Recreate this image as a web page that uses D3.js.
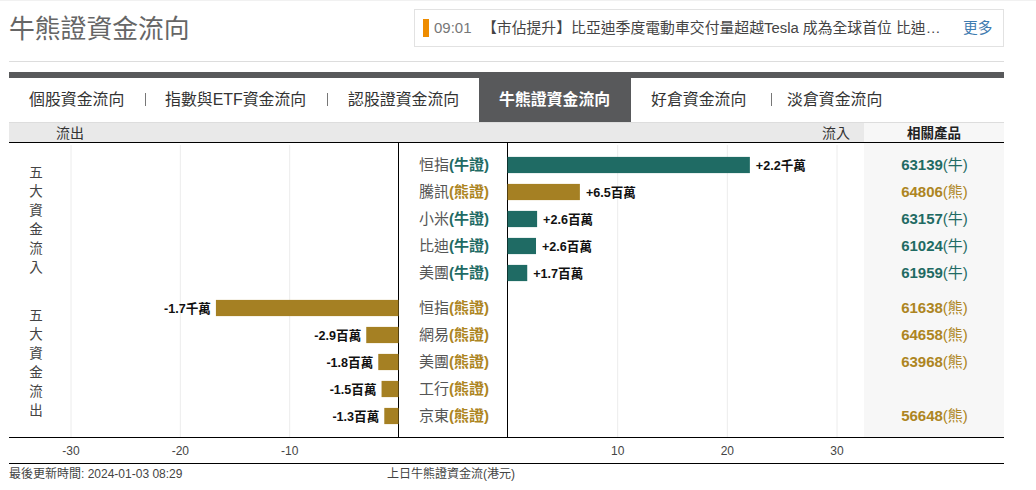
<!DOCTYPE html>
<html>
<head>
<meta charset="utf-8">
<script src="https://cdn.jsdelivr.net/npm/d3@7"></script>
<style>
  html, body { margin: 0; padding: 0; background: #fff; overflow: hidden; }
  svg { display: block; }
  text { font-family: "Liberation Sans", "Noto Sans CJK TC", sans-serif; }
  .grid line { stroke: #ececec; }
</style>
</head>
<body>
<div id="chart"></div>
<script>
// values (million HKD)
var inNames = ["恒指", "騰訊", "小米", "比迪", "美團"];
var inKinds = ["牛", "熊", "牛", "牛", "牛"];
var inValues = [22.1, 6.6, 2.7, 2.6, 1.8];
var inLabels = ["+2.2千萬", "+6.5百萬", "+2.6百萬", "+2.6百萬", "+1.7百萬"];
var inCodes = ["63139", "64806", "63157", "61024", "61959"];

var outNames = ["恒指", "網易", "美團", "工行", "京東"];
var outKinds = ["熊", "熊", "熊", "熊", "熊"];
var outValues = [16.7, 2.95, 1.85, 1.55, 1.3];
var outLabels = ["-1.7千萬", "-2.9百萬", "-1.8百萬", "-1.5百萬", "-1.3百萬"];
var outCodes = ["61638", "64658", "63968", "", "56648"];

var leftTicks = [-30, -20, -10];
var rightTicks = [10, 20, 30];

var tabs = ["個股資金流向", "指數與ETF資金流向", "認股證資金流向", "牛熊證資金流向", "好倉資金流向", "淡倉資金流向"];
var tabX = [29, 165, 348, 499, 651, 787];
var tabSeparators = [145, 327, 771];

var BULL = "#1f6b64", BEAR = "#a58023", BEAR_TEXT = "#ad8522";
function kindColor(k) { return k == "牛" ? BULL : BEAR; }
function textColor(k) { return k == "牛" ? BULL : BEAR_TEXT; }

var svg = d3.select("#chart").append("svg")
    .attr("width", 1036)
    .attr("height", 490);

function addText(x, y, str, size, color, anchor, weight) {
    return svg.append("text")
        .attr("x", x).attr("y", y)
        .attr("font-size", size)
        .attr("fill", color)
        .attr("text-anchor", anchor || "start")
        .attr("font-weight", weight || "normal")
        .text(str);
}
function addRect(x, y, w, h, fill) {
    return svg.append("rect").attr("x", x).attr("y", y).attr("width", w).attr("height", h).attr("fill", fill);
}
function addLine(x1, y1, x2, y2, color) {
    return svg.append("line").attr("x1", x1).attr("y1", y1).attr("x2", x2).attr("y2", y2).attr("stroke", color);
}

// page header
addRect(0, 0, 1036, 1, "#f1f1f1");
addText(9, 38, "牛熊證資金流向", 25.8, "#666");
svg.append("rect").attr("x", 414.5).attr("y", 9.5).attr("width", 589).attr("height", 37)
    .attr("fill", "#fff").attr("stroke", "#e2e2e2");
addRect(423, 19, 6, 18, "#ee8c00");
addText(434, 33, "09:01", 15, "#777");
addText(482, 33, "【市佔提升】比亞迪季度電動車交付量超越Tesla 成為全球首位 比迪…", 14.85, "#444");
addText(963, 33, "更多", 14.7, "#3f7cb0");
addLine(9, 61.5, 1004, 61.5, "#ddd");

// tabs
addRect(9, 72, 995, 6, "#58595b");
addRect(479, 78, 152, 44, "#58595b");
tabs.forEach(function(t, i) {
    addText(tabX[i], 105, t, 15.9, i == 3 ? "#fff" : "#333", "start", i == 3 ? "bold" : "normal");
});
tabSeparators.forEach(function(x) { addLine(x + 0.5, 93, x + 0.5, 106, "#777"); });

// table header and side panel
addRect(9, 122, 995, 1, "#ddd");
addRect(9, 123, 855, 19, "#e9e9e9");
addRect(864, 123, 140, 19, "#f7f7f7");
addRect(864, 143, 140, 294, "#f7f7f7");
addText(56, 138, "流出", 14, "#333");
addText(822, 138, "流入", 14, "#333");
addText(934, 138, "相關產品", 13.5, "#222", "middle", "bold");

// scales
var xLeft = d3.scaleLinear().domain([-30, 0]).range([70.5, 398.5]);
var xRight = d3.scaleLinear().domain([0, 30]).range([507.5, 836.5]);
var yIn = d3.scaleBand().domain(inNames).range([151.5, 286.5]).paddingInner(0.4).paddingOuter(0.2);
var yOut = d3.scaleBand().domain(outNames).range([294.5, 429.5]).paddingInner(0.4).paddingOuter(0.2);

// gridlines and axes, tick lines stretched up to the header
function drawAxis(scale, ticks) {
    var g = svg.append("g")
        .attr("class", "grid")
        .attr("transform", "translate(0,437)")
        .call(d3.axisBottom(scale).tickValues(ticks).tickFormat(function(d) { return String(d); }).tickSize(-292).tickPadding(9));
    g.select(".domain").remove();
    g.selectAll("text")
        .attr("font-size", 12)
        .attr("fill", "#444")
        .style("font-family", '"Liberation Sans", sans-serif');
}
drawAxis(xLeft, leftTicks);
drawAxis(xRight, rightTicks);

// frame lines
addLine(9, 142.5, 1004, 142.5, "#000");
addLine(9, 437.5, 1004, 437.5, "#000");
addLine(9, 463.5, 1004, 463.5, "#000");
addLine(398.5, 142, 398.5, 437, "#000");
addLine(507.5, 142, 507.5, 437, "#000");

// inflow bars
svg.selectAll(".barIn")
    .data(inValues)
    .enter()
    .append("rect")
    .attr("class", "barIn")
    .attr("x", xRight(0))
    .attr("y", function(d, i) { return yIn(inNames[i]); })
    .attr("width", function(d) { return xRight(d) - xRight(0); })
    .attr("height", yIn.bandwidth())
    .attr("fill", function(d, i) { return kindColor(inKinds[i]); });

// outflow bars
svg.selectAll(".barOut")
    .data(outValues)
    .enter()
    .append("rect")
    .attr("class", "barOut")
    .attr("x", function(d) { return xLeft(-d); })
    .attr("y", function(d, i) { return yOut(outNames[i]); })
    .attr("width", function(d) { return xLeft(0) - xLeft(-d); })
    .attr("height", yOut.bandwidth())
    .attr("fill", BEAR);

function drawRow(name, kind, y, code) {
    var t = addText(454, y + 5, "", 15, "#555", "middle");
    t.append("tspan").text(name);
    t.append("tspan").attr("fill", textColor(kind)).attr("font-weight", "bold").text("(" + kind + "證)");
    if (code) {
        var c = addText(934.5, y + 5, "", 15, textColor(kind), "middle");
        c.append("tspan").attr("font-weight", "bold").text(code);
        c.append("tspan").text("(" + kind + ")");
    }
}

inNames.forEach(function(n, i) {
    var y = yIn(n) + yIn.bandwidth() / 2;
    drawRow(n, inKinds[i], y, inCodes[i]);
    addText(xRight(inValues[i]) + 6, y + 4.5, inLabels[i], 12.6, "#111", "start", "bold");
});
outNames.forEach(function(n, i) {
    var y = yOut(n) + yOut.bandwidth() / 2;
    drawRow(n, outKinds[i], y, outCodes[i]);
    addText(xLeft(-outValues[i]) - 5, y + 4.5, outLabels[i], 12.6, "#111", "end", "bold");
});

// vertical captions
"五大資金流入".split("").forEach(function(c, i) {
    addText(36, 177 + i * 19, c, 13.5, "#444", "middle");
});
"五大資金流出".split("").forEach(function(c, i) {
    addText(36, 320 + i * 19, c, 13.5, "#444", "middle");
});

// footer
addText(9, 478, "最後更新時間: 2024-01-03 08:29", 12, "#444");
addText(387, 478, "上日牛熊證資金流(港元)", 12, "#444");
</script>
</body>
</html>
